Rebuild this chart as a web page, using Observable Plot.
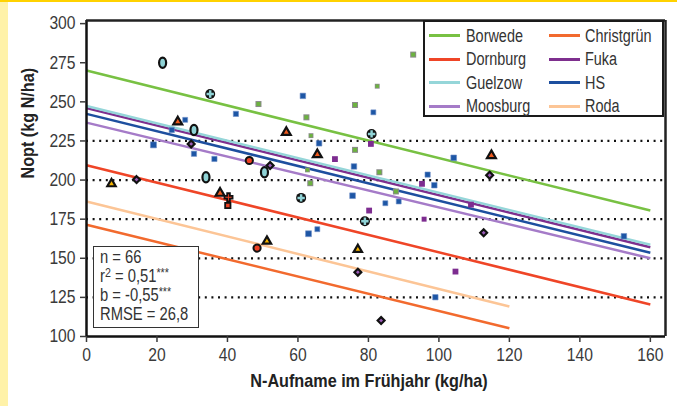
<!DOCTYPE html>
<html><head><meta charset="utf-8">
<script src="https://cdn.jsdelivr.net/npm/d3@7"></script>
<script src="https://cdn.jsdelivr.net/npm/@observablehq/plot@0.6"></script>
<style>
body{margin:0;background:#fff;}
#wrap{position:relative;width:677px;height:406px;overflow:hidden;background:#fff;font-family:"Liberation Sans",Arial,sans-serif;}
#wrap svg{position:absolute;left:0;top:0;}
.topbar{position:absolute;left:0;top:0;width:677px;height:2px;background:#FFD200;}
.leftbar{position:absolute;left:0;top:0;width:8px;height:406px;background:#FFF2A8;}
#legend{position:absolute;left:423px;top:20px;width:241px;height:97px;box-sizing:border-box;border:2.5px solid #1a1a1a;background:#fff;}
.li{position:absolute;height:24px;line-height:24px;font-size:17.6px;color:#333;white-space:nowrap;transform:scaleX(0.82);transform-origin:0 50%;}
.sw{position:absolute;width:31px;height:3px;}
#stats{position:absolute;left:93px;top:246px;width:106px;height:82px;box-sizing:border-box;border:1.5px solid #333;background:#fff;padding:1px 0 0 6px;font-size:18px;line-height:19px;color:#333;}
#stats div{white-space:nowrap;transform:scaleX(0.82);transform-origin:0 50%;}
#stats sup{font-size:13px;vertical-align:5px;line-height:0;}
</style></head>
<body><div id="wrap"><div class="leftbar"></div><div class="topbar"></div></div>
<script>
// ---------- data ----------
const xTicks = [0, 20, 40, 60, 80, 100, 120, 140, 160];
const yTicks = [100, 125, 150, 175, 200, 225, 250, 275, 300];
const gridValues = [125, 150, 175, 200, 225];

const lineNames  = ["Borwede", "Christgrün", "Dornburg", "Fuka", "Guelzow", "HS", "Moosburg", "Roda"];
const lineXStart = [0, 0, 0, 0, 0, 0, 0, 0];
const lineXEnd   = [160, 120, 160, 160, 160, 160, 160, 120];
const lineYStart = [270, 171.4, 209.5, 246, 247.4, 242.3, 236.7, 186.3];
const lineYEnd   = [180.5, 105.3, 120.4, 157, 158.6, 153.5, 150, 119.2];

const hsX = [42.4, 28, 24.2, 19, 30.5, 36.3, 61.4, 66, 81.4, 75.9, 75.5, 96.8, 98.7, 104.2, 84.8, 88.6, 63, 65.5, 99, 152.5];
const hsY = [242.3, 238.5, 232, 222.5, 216.8, 213.5, 253.8, 223.5, 243.3, 208.7, 190, 203.5, 196.7, 214.2, 185.2, 186.3, 165.7, 168.6, 125.1, 164.1];
const borwedeX = [48.8, 62.4, 63.7, 76.2, 82.5, 76.2, 83.1, 92.7, 87.8, 63.5, 62.7];
const borwedeY = [248.6, 240.1, 228.4, 248, 260, 219.3, 205, 280.2, 192.7, 198, 206.5];
const fukaX = [70.5, 80.7, 95.2, 109.1, 95.8, 104.7, 80.2];
const fukaY = [213.4, 223.1, 197.6, 184.3, 175, 141.5, 180.5];
const guelzowOvalX = [21.6, 30.5, 33.9, 50.5];
const guelzowOvalY = [275, 232, 201.8, 205];
const guelzowCrossX = [35.1, 80.9, 60.9, 79];
const guelzowCrossY = [255, 229.5, 188.6, 173.7];
const dornburgX = [25.9, 56.7, 65.5, 114.9, 37.9];
const dornburgY = [237.2, 230.5, 216.3, 215.7, 191.6];
const rodaX = [7.1, 51.2, 77];
const rodaY = [197.6, 160.9, 155.6];
const christCircleX = [46.2, 48.4];
const christCircleY = [212.5, 156.5];
const christCrossX = [40.3];
const christCrossY = [189];
const christSquareX = [40.1];
const christSquareY = [183.7];
const moosburgX = [29.7, 14.2, 52.1, 114.4, 112.7, 77, 83.6];
const moosburgY = [223.1, 200.3, 209.3, 203.1, 166.3, 141.1, 110.2];

const statsLines = ["n = 66", "r^2^ = 0,51^***^", "b = -0,55^***^", "RMSE = 26,8"];

// ---------- styles ----------
const lineColors = ["#78C143", "#F26A2E", "#EF4527", "#7E2F8E", "#95D6D9", "#1D4F9F", "#A57BC8", "#FCC596"];
const hsR = [3.8, 3.4, 3.8, 5, 3.8, 3.8, 4.2, 4.2, 3.4, 4.2, 4.5, 3.8, 4.2, 4.5, 3.4, 3.4, 4.8, 3.4, 4, 4.2];
const borwedeSmall = [false, false, true, false, true, false, false, false, false, false, true];

const toPts = (xs, ys, extra) => xs.map((x, i) => ({x, y: ys[i], i, ...(extra ? extra(i) : {})}));

const ellipseSym = {draw(ctx, size) {
  const r = Math.sqrt(size / Math.PI), rx = r * 0.8, ry = r * 1.15, k = 0.5523;
  ctx.moveTo(rx, 0);
  ctx.bezierCurveTo(rx, ry * k, rx * k, ry, 0, ry);
  ctx.bezierCurveTo(-rx * k, ry, -rx, ry * k, -rx, 0);
  ctx.bezierCurveTo(-rx, -ry * k, -rx * k, -ry, 0, -ry);
  ctx.bezierCurveTo(rx * k, -ry, rx, -ry * k, rx, 0);
  ctx.closePath();
}};

const lines = lineNames.map((n, i) => ({n, x1: lineXStart[i], x2: lineXEnd[i], y1: lineYStart[i], y2: lineYEnd[i], c: lineColors[i]}));
const hsPts = toPts(hsX, hsY, i => ({r: hsR[i]}));
const bwPts = toPts(borwedeX, borwedeY, i => ({ro: borwedeSmall[i] ? 3.3 : 5, ri: borwedeSmall[i] ? 1.5 : 2.2}));
const fkPts = toPts(fukaX, fukaY, i => ({r: i === 4 ? 3.4 : 4.7}));
const gcPts = toPts(guelzowCrossX, guelzowCrossY);

const plot = Plot.plot({
  width: 677, height: 406,
  marginLeft: 86, marginRight: 12, marginTop: 20, marginBottom: 70,
  x: {domain: [0, 164.3]},
  y: {domain: [100, 302]},
  style: {fontFamily: '"Liberation Sans",Arial,sans-serif', fontSize: "18px", color: "#3a3a3a", background: "transparent"},
  marks: [
    Plot.ruleY(gridValues, {stroke: "#111", strokeWidth: 2.2, strokeDasharray: "2 4.6"}),
    Plot.link(lines, {x1: "x1", y1: "y1", x2: "x2", y2: "y2", stroke: "c", strokeWidth: 2.5}),
    Plot.dot(hsPts, {x: "x", y: "y", r: "r", symbol: "square", fill: "#1D56A5", stroke: "#6E8FC8", strokeWidth: 0.6}),
    Plot.dot(bwPts, {x: "x", y: "y", r: "ro", symbol: "square", fill: "#8A8A8A"}),
    Plot.dot(bwPts, {x: "x", y: "y", r: "ri", symbol: "square", fill: "#6CB33F"}),
    Plot.dot(fkPts, {x: "x", y: "y", r: "r", symbol: "square", fill: "#7D2C90"}),
    Plot.dot(toPts(guelzowOvalX, guelzowOvalY), {x: "x", y: "y", r: 4.4, symbol: ellipseSym, fill: "#8FD3D6", stroke: "#111", strokeWidth: 2.2}),
    Plot.dot(gcPts, {x: "x", y: "y", r: 5, symbol: "circle", fill: "#111"}),
    Plot.dot(gcPts, {x: "x", y: "y", r: 3.1, symbol: "cross", fill: "#8FD3D6"}),
    Plot.dot(toPts(dornburgX, dornburgY), {x: "x", y: "y", r: 3.3, symbol: "triangle", fill: "#EF5A1E", stroke: "#111", strokeWidth: 2.2}),
    Plot.dot(toPts(rodaX, rodaY), {x: "x", y: "y", r: 3.1, symbol: "triangle", fill: "#F5B400", stroke: "#111", strokeWidth: 2.2}),
    Plot.dot(toPts(christCircleX, christCircleY), {x: "x", y: "y", r: 3.6, symbol: "circle", fill: "#EE4023", stroke: "#111", strokeWidth: 2}),
    Plot.dot(toPts(christCrossX, christCrossY), {x: "x", y: "y", r: 3.4, symbol: "cross", fill: "#EE4023", stroke: "#111", strokeWidth: 1.8}),
    Plot.dot(toPts(christSquareX, christSquareY), {x: "x", y: "y", r: 3, symbol: "square", fill: "#EE4023", stroke: "#111", strokeWidth: 1.8}),
    Plot.dot(toPts(moosburgX, moosburgY), {x: "x", y: "y", r: 3.1, symbol: "diamond2", fill: "#9B5BB8", stroke: "#111", strokeWidth: 2.2}),
    Plot.ruleX([0], {stroke: "#111", strokeWidth: 2.5}),
    Plot.ruleY([100], {stroke: "#111", strokeWidth: 2.5}),
    Plot.ruleY([302], {stroke: "#222", strokeWidth: 2.5}),
    Plot.ruleX([164.3], {stroke: "#222", strokeWidth: 2.5}),
    Plot.axisY({ticks: yTicks, tickSize: 6, tickPadding: 5, strokeWidth: 1.5, label: null, tickFormat: d => d}),
    Plot.axisX({ticks: xTicks, tickSize: 6, tickPadding: 6, strokeWidth: 1.5, label: null, tickFormat: d => d}),
    Plot.text(["Nopt (kg N/ha)"], {frameAnchor: "left", dx: -58, rotate: -90, fontWeight: "bold", fontSize: 18, fill: "#222"}),
    Plot.text(["N-Aufname im Frühjahr (kg/ha)"], {frameAnchor: "bottom", dy: 50, dx: -7, fontWeight: "bold", fontSize: 18, fill: "#222"})
  ]
});
const wrap = document.getElementById("wrap");
wrap.appendChild(plot);

// condense svg text horizontally around its anchor
plot.querySelectorAll("text").forEach(t => {
  const s = /^\d+$/.test(t.textContent.trim()) ? 0.87 : 0.9;
  const tr = t.getAttribute("transform") || "";
  let tx = 0, ty = 0;
  const xa = t.getAttribute("x"), ya = t.getAttribute("y");
  if (xa !== null && /^-?[\d.]+$/.test(xa)) { tx = +xa; t.removeAttribute("x"); }
  if (ya !== null && /^-?[\d.]+$/.test(ya)) { ty = +ya; t.removeAttribute("y"); }
  t.setAttribute("transform", `${tr} translate(${tx},${ty}) scale(${s},1)`);
});

// legend
const leg = document.createElement("div");
leg.id = "legend";
const order = [["Borwede", "Christgrün"], ["Dornburg", "Fuka"], ["Guelzow", "HS"], ["Moosburg", "Roda"]];
const rowY = [13.5, 37, 60.5, 84];
const colSw = [4, 124], colTx = [41, 160];
order.forEach((row, r) => row.forEach((name, c) => {
  const sw = document.createElement("div");
  sw.className = "sw";
  sw.style.left = colSw[c] + "px";
  sw.style.top = (rowY[r] - 1.5) + "px";
  sw.style.background = lineColors[lineNames.indexOf(name)];
  leg.appendChild(sw);
  const t = document.createElement("div");
  t.className = "li";
  t.style.left = colTx[c] + "px";
  t.style.top = (rowY[r] - 12) + "px";
  t.textContent = name;
  leg.appendChild(t);
}));
wrap.appendChild(leg);

// stats box
const st = document.createElement("div");
st.id = "stats";
st.innerHTML = statsLines.map(s => `<div>${s.replace(/\^([^^]+)\^/g, "<sup>$1</sup>")}</div>`).join("");
wrap.appendChild(st);
</script>
</body></html>
